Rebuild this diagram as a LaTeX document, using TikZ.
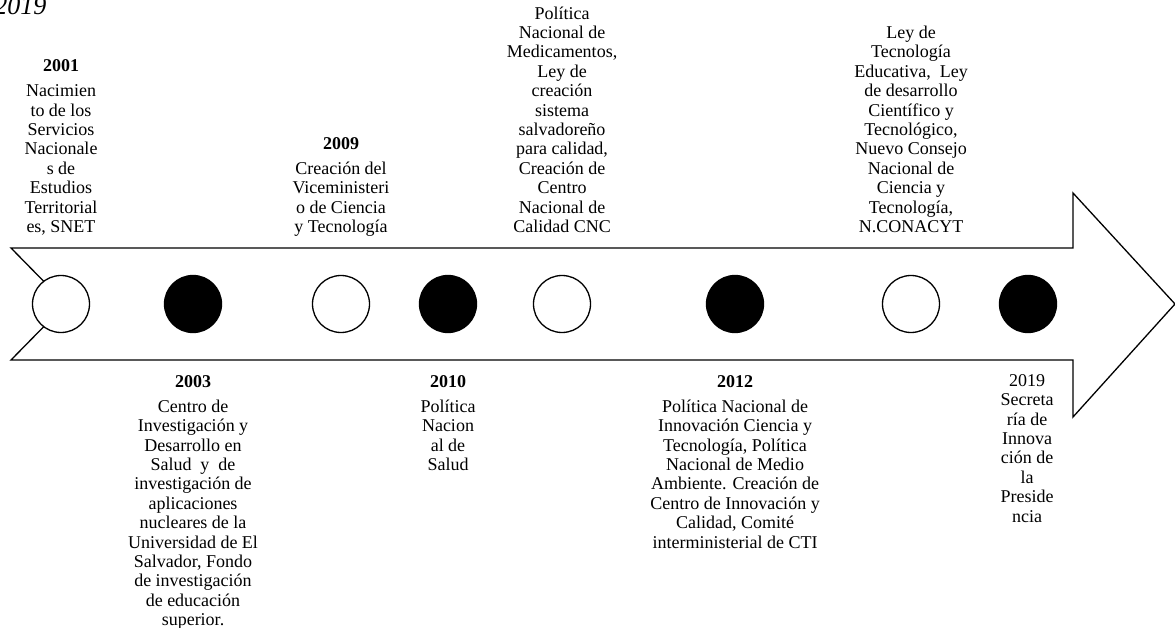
\documentclass[tikz,border=0pt]{standalone}
\usepackage{fontspec}
\setmainfont{Liberation Serif}

\tikzset{
  evento/.style={align=center, inner sep=0pt, font=\fontsize{18}{19.4}\selectfont},
  hito/.style={circle, draw, line width=1.3pt, minimum size=57pt, inner sep=0pt}
}

\begin{document}
\begin{tikzpicture}[x=1pt, y=-1pt, line width=1.3pt]
\useasboundingbox (0,0) rectangle (1175,628);

\node[anchor=base east, inner sep=0pt, font=\fontsize{26}{28}\selectfont\itshape] (fig) at (47,15) {2019};

% flecha
\draw[line join=miter] (11,248) -- (1073,248) -- (1073,193) -- (1175,304) -- (1073,417) -- (1073,360) -- (11,360) -- (66,304) -- cycle;

\foreach \x/\c [count=\i] in {61/white, 193/black, 341/white, 448/black, 562/white, 735/black, 911/white, 1028/black}
  \node[hito, fill=\c] (h\i) at (\x, 304) {};

% arriba
\node[evento, anchor=south] (e2001) at (61, 239) {\textbf{2001}\\[5.6pt]Nacimien\\to de los\\Servicios\\Nacionale\\s de\\Estudios\\Territorial\\es, SNET\strut};
\node[evento, anchor=south] (e2009) at (341, 239) {\textbf{2009}\\[5.6pt]Creación del\\Viceministeri\\o de Ciencia\\y Tecnología\strut};
\node[evento, anchor=south] (e2011) at (562, 239) {Política\\Nacional de\\Medicamentos,\\Ley de\\creación\\sistema\\salvadoreño\\para calidad,\\Creación de\\Centro\\Nacional de\\Calidad CNC\strut};
\node[evento, anchor=south] (e2013) at (911, 239) {Ley de\\Tecnología\\Educativa,~ Ley\\de desarrollo\\Científico y\\Tecnológico,\\Nuevo Consejo\\Nacional de\\Ciencia y\\Tecnología,\\N.CONACYT\strut};

% abajo
\node[evento, anchor=north] (e2003) at (193, 373) {\textbf{2003}\strut\\[5.6pt]Centro de\\Investigación y\\Desarrollo en\\Salud~ y~ de\\investigación de\\aplicaciones\\nucleares de la\\Universidad de El\\Salvador, Fondo\\de investigación\\de educación\\superior.};
\node[evento, anchor=north] (e2010) at (448, 373) {\textbf{2010}\strut\\[5.6pt]Política\\Nacion\\al de\\Salud};
\node[evento, anchor=north] (e2012) at (735, 373) {\textbf{2012}\strut\\[5.6pt]Política Nacional de\\Innovación Ciencia y\\Tecnología, Política\\Nacional de Medio\\Ambiente. Creación de\\Centro de Innovación y\\Calidad, Comité\\interministerial de CTI};
\node[evento, anchor=north] (e2019) at (1027, 372) {2019\strut\\Secreta\\ría de\\Innova\\ción de\\la\\Preside\\ncia};

\end{tikzpicture}
\end{document}
